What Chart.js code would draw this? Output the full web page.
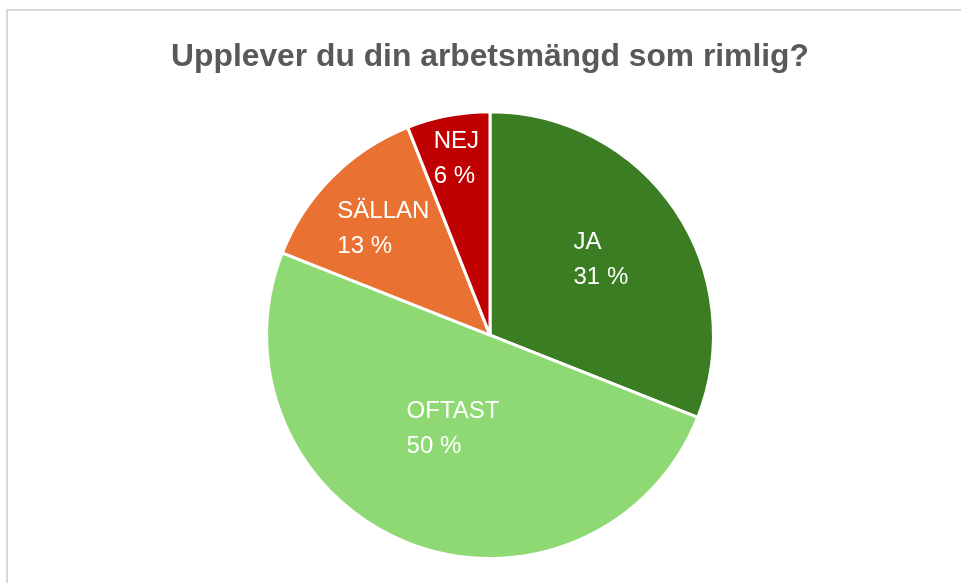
<!DOCTYPE html>
<html lang="sv">
<head>
    <meta charset="UTF-8">
    <title>Arbetsmängd</title>
    <script src="https://cdn.jsdelivr.net/npm/chart.js"></script>
    <style>
        body { margin: 0; background: #fff; }
        .ram {
            position: absolute;
            left: 6px;
            top: 9px;
            width: 961px;
            height: 583px;
            border-left: 2px solid #d9d9d9;
            border-top: 2px solid #d9d9d9;
        }
        #grafico { position: absolute; left: 0; top: 0; }
    </style>
</head>
<body>
    <div class="ram"></div>
    <canvas id="grafico" width="961" height="583"></canvas>

    <script>
        const svar = ["JA", "OFTAST", "SÄLLAN", "NEJ"];
        const andel = [31, 50, 13, 6];
        const farger = ["#3a7d22", "#8ed973", "#e97132", "#c00000"];
        // hur långt ut etiketten sitter i varje tårtbit (del av radien)
        const etikettAvstand = [0.6, 0.45, 0.675, 0.805];

        const etiketter = {
            id: "etiketter",
            afterDatasetsDraw(chart) {
                const ctx = chart.ctx;
                const meta = chart.getDatasetMeta(0);
                ctx.save();
                ctx.font = "24px 'Liberation Sans', Arial, sans-serif";
                ctx.fillStyle = "#ffffff";
                ctx.textBaseline = "middle";
                ctx.textAlign = "left";
                meta.data.forEach((arc, i) => {
                    const p = arc.getProps(["x", "y", "startAngle", "endAngle", "outerRadius"], true);
                    const mitt = (p.startAngle + p.endAngle) / 2;
                    const r = p.outerRadius * etikettAvstand[i];
                    const cx = p.x + Math.cos(mitt) * r;
                    const cy = p.y + Math.sin(mitt) * r;
                    const rader = [svar[i], andel[i] + " %"];
                    const bredd = Math.max(...rader.map(t => ctx.measureText(t).width));
                    const radhojd = 35;
                    rader.forEach((t, j) => {
                        ctx.fillText(t, cx - bredd / 2, cy + (j - (rader.length - 1) / 2) * radhojd);
                    });
                });
                ctx.restore();
            }
        };

        let ctx = document.getElementById("grafico").getContext("2d");
        let grafico = new Chart(ctx, {
            type: "pie",
            data: {
                labels: svar,
                datasets: [{
                    data: andel,
                    backgroundColor: farger,
                    borderColor: "#ffffff",
                    borderWidth: 3
                }]
            },
            options: {
                responsive: false,
                animation: false,
                layout: { padding: { top: 38, bottom: 23, left: 19, right: 0 } },
                plugins: {
                    legend: { display: false },
                    tooltip: { enabled: false },
                    title: {
                        display: true,
                        text: "Upplever du din arbetsmängd som rimlig?",
                        color: "#595959",
                        font: { family: "'Liberation Sans', Arial, sans-serif", size: 31.8, weight: "bold", lineHeight: 1.2 },
                        padding: { top: 0, bottom: 34 }
                    }
                }
            },
            plugins: [etiketter]
        });
    </script>
</body>
</html>
